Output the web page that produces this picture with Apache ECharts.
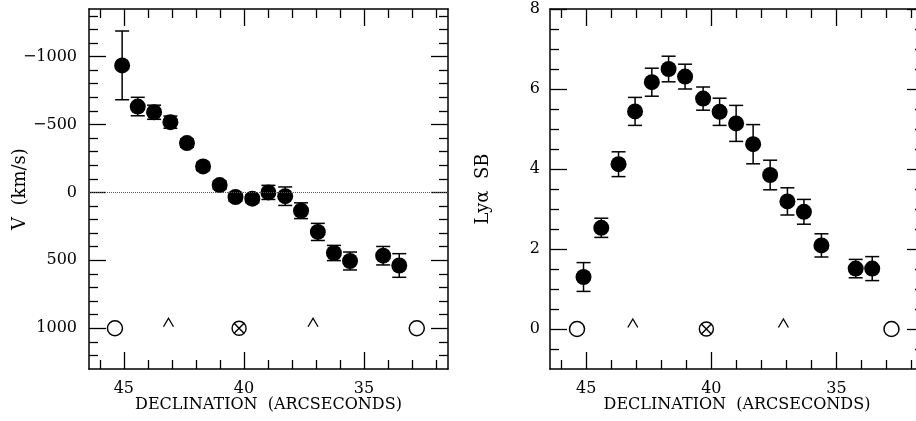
<!DOCTYPE html>
<html>
<head>
<meta charset="utf-8">
<script src="https://cdn.jsdelivr.net/npm/echarts@6/dist/echarts.min.js"></script>
<style>
html,body{margin:0;padding:0;background:#fff;}
#chart{width:916px;height:421px;}
</style>
</head>
<body>
<div id="chart"></div>
<script>
// ---------- data ----------
const declMin = 31.5;
const declMax = 46.45;
const declMajor = [45, 40, 35];
const declMinor = [32, 33, 34, 36, 37, 38, 39, 41, 42, 43, 44, 46];

const vMin = -1350;
const vMax = 1300;
const vMajor = [-1000, -500, 0, 500, 1000];
const vMinor = [-1300, -1200, -1100, -900, -800, -700, -600, -400, -300, -200, -100,
                100, 200, 300, 400, 600, 700, 800, 900, 1100, 1200];

const sbMin = -1;
const sbMax = 8;
const sbMajor = [0, 2, 4, 6, 8];
const sbMinor = [-0.5, 0.5, 1, 1.5, 2.5, 3, 3.5, 4.5, 5, 5.5, 6.5, 7, 7.5];

const velDecl  = [45.07, 44.42, 43.74, 43.06, 42.37, 41.70, 41.01, 40.35, 39.65, 38.98, 38.28, 37.62, 36.92, 36.25, 35.58, 34.20, 33.53];
const velValue = [-935, -632, -590, -517, -363, -191, -54, 34, 46, 0, 28, 135, 291, 446, 505, 466, 538];
const velErr   = [253, 68, 52, 45, 30, 30, 30, 30, 30, 52, 68, 58, 63, 56, 66, 68, 87];

const sbDecl  = [45.11, 44.40, 43.71, 43.05, 42.38, 41.71, 41.05, 40.33, 39.67, 39.01, 38.33, 37.65, 36.96, 36.30, 35.60, 34.23, 33.57];
const sbValue = [1.30, 2.53, 4.12, 5.44, 6.17, 6.50, 6.31, 5.76, 5.43, 5.14, 4.62, 3.85, 3.19, 2.93, 2.09, 1.51, 1.51];
const sbErr   = [0.36, 0.24, 0.31, 0.35, 0.35, 0.32, 0.31, 0.29, 0.34, 0.45, 0.49, 0.37, 0.34, 0.31, 0.29, 0.23, 0.30];

const openCircleDecl = [45.37, 32.80];
const caretDecl = [43.14, 37.12];
const nucleusDecl = [40.2];
const markerLevelV = 1000;
const markerLevelSB = 0;

const xName = 'DECLINATION  (ARCSECONDS)';
const vName = 'V  (km/s)';
const sbName = 'Ly\u03b1  SB';

// ---------- styling helpers ----------
const FONT = 'DejaVu Serif';
const BLACK = '#000';
const MAJOR_LEN = 17;
const MINOR_LEN = 9;

function axisSet(dim, gridIndex, opts) {
  // returns [majorMain, minorMain, majorOpp, minorOpp]
  const mainPos = dim === 'x' ? 'bottom' : 'left';
  const oppPos = dim === 'x' ? 'top' : 'right';
  const base = {
    gridIndex: gridIndex, type: 'value', min: opts.min, max: opts.max,
    inverse: !!opts.inverse, splitLine: {show: false}, scale: true
  };
  const mk = (pos, values, len, withLabel, withLine) => Object.assign({}, base, {
    position: pos,
    axisLine: {show: withLine, onZero: false, lineStyle: {color: BLACK, width: 1.5}},
    axisTick: {show: true, inside: true, length: len, customValues: values,
               lineStyle: {color: BLACK, width: 1.3}},
    axisLabel: withLabel ? {
      show: true, customValues: opts.major, margin: opts.labelMargin,
      fontFamily: FONT, fontSize: 16, color: BLACK,
      formatter: v => String(v).replace('-', '\u2212')
    } : {show: false},
    name: withLabel ? opts.name : '',
    nameLocation: 'middle',
    nameGap: opts.nameGap,
    nameMoveOverlap: false,
    nameTextStyle: {fontFamily: FONT, fontSize: opts.nameSize, color: BLACK}
  });
  return [
    mk(mainPos, opts.major, MAJOR_LEN, true, true),
    mk(mainPos, opts.minor, MINOR_LEN, false, false),
    mk(oppPos, opts.major, MAJOR_LEN, false, true),
    mk(oppPos, opts.minor, MINOR_LEN, false, false)
  ];
}

const xAxes = [].concat(
  axisSet('x', 0, {min: declMin, max: declMax, inverse: true, major: declMajor, minor: declMinor,
                   labelMargin: 12, name: xName, nameGap: 28, nameSize: 16}),
  axisSet('x', 1, {min: declMin, max: declMax, inverse: true, major: declMajor, minor: declMinor,
                   labelMargin: 12, name: xName, nameGap: 28, nameSize: 16})
);
const yAxes = [].concat(
  axisSet('y', 0, {min: vMin, max: vMax, inverse: true, major: vMajor, minor: vMinor,
                   labelMargin: 12, name: vName, nameGap: 60, nameSize: 18}),
  axisSet('y', 1, {min: sbMin, max: sbMax, inverse: false, major: sbMajor, minor: sbMinor,
                   labelMargin: 10, name: sbName, nameGap: 58, nameSize: 18})
);

function errorBarSeries(xi, yi, decl, val, err) {
  return {
    type: 'custom', xAxisIndex: xi, yAxisIndex: yi, z: 2, silent: true,
    data: decl.map((d, i) => [d, val[i], err[i]]),
    renderItem: function (params, api) {
      const x = api.value(0), y = api.value(1), e = api.value(2);
      const p1 = api.coord([x, y - e]);
      const p2 = api.coord([x, y + e]);
      const hw = 7;
      const st = {stroke: BLACK, lineWidth: 1.5};
      return {type: 'group', children: [
        {type: 'line', shape: {x1: p1[0], y1: p1[1], x2: p2[0], y2: p2[1]}, style: st},
        {type: 'line', shape: {x1: p1[0] - hw, y1: p1[1], x2: p1[0] + hw, y2: p1[1]}, style: st},
        {type: 'line', shape: {x1: p2[0] - hw, y1: p2[1], x2: p2[0] + hw, y2: p2[1]}, style: st}
      ]};
    }
  };
}

function pointSeries(xi, yi, decl, val) {
  return {
    type: 'scatter', xAxisIndex: xi, yAxisIndex: yi, z: 3, silent: true,
    symbol: 'circle', symbolSize: 16,
    itemStyle: {color: BLACK, opacity: 1},
    data: decl.map((d, i) => [d, val[i]])
  };
}

function openCircleSeries(xi, yi, level) {
  return {
    type: 'scatter', xAxisIndex: xi, yAxisIndex: yi, z: 3, silent: true,
    symbol: 'circle', symbolSize: 15,
    itemStyle: {color: '#fff', borderColor: BLACK, borderWidth: 1.5, opacity: 1},
    data: openCircleDecl.map(d => [d, level])
  };
}

function caretSeries(xi, yi, level) {
  return {
    type: 'custom', xAxisIndex: xi, yAxisIndex: yi, z: 3, silent: true,
    data: caretDecl.map(d => [d, level]),
    renderItem: function (params, api) {
      const p = api.coord([api.value(0), api.value(1)]);
      return {type: 'polyline', shape: {points: [[p[0] - 5, p[1] - 1.5], [p[0], p[1] - 10], [p[0] + 5, p[1] - 1.5]]},
              style: {stroke: BLACK, lineWidth: 1.3, fill: null}};
    }
  };
}

function nucleusSeries(xi, yi, level) {
  return {
    type: 'custom', xAxisIndex: xi, yAxisIndex: yi, z: 3, silent: true,
    data: nucleusDecl.map(d => [d, level]),
    renderItem: function (params, api) {
      const p = api.coord([api.value(0), api.value(1)]);
      const r = 7, k = r * 0.7071;
      const st = {stroke: BLACK, lineWidth: 1.4, fill: null};
      return {type: 'group', children: [
        {type: 'circle', shape: {cx: p[0], cy: p[1], r: r}, style: {stroke: BLACK, lineWidth: 1.4, fill: '#fff'}},
        {type: 'line', shape: {x1: p[0] - k, y1: p[1] - k, x2: p[0] + k, y2: p[1] + k}, style: st},
        {type: 'line', shape: {x1: p[0] - k, y1: p[1] + k, x2: p[0] + k, y2: p[1] - k}, style: st}
      ]};
    }
  };
}

const zeroLine = {
  type: 'line', xAxisIndex: 0, yAxisIndex: 0, z: 1, silent: true,
  data: [], symbol: 'none',
  markLine: {
    silent: true, symbol: ['none', 'none'], label: {show: false},
    lineStyle: {color: '#555', type: 'dotted', width: 1},
    data: [{yAxis: 0}]
  }
};

const option = {
  animation: false,
  backgroundColor: '#fff',
  grid: [
    {left: 89, top: 9, width: 359, height: 360, outerBoundsMode: 'none', containLabel: false},
    {left: 550, top: 9, width: 374, height: 360, outerBoundsMode: 'none', containLabel: false}
  ],
  xAxis: xAxes,
  yAxis: yAxes,
  series: [
    zeroLine,
    errorBarSeries(0, 0, velDecl, velValue, velErr),
    pointSeries(0, 0, velDecl, velValue),
    openCircleSeries(0, 0, markerLevelV),
    caretSeries(0, 0, markerLevelV),
    nucleusSeries(0, 0, markerLevelV),
    errorBarSeries(4, 4, sbDecl, sbValue, sbErr),
    pointSeries(4, 4, sbDecl, sbValue),
    openCircleSeries(4, 4, markerLevelSB),
    caretSeries(4, 4, markerLevelSB),
    nucleusSeries(4, 4, markerLevelSB)
  ]
};

const chart = echarts.init(document.getElementById('chart'), null, {renderer: 'canvas'});
chart.setOption(option);
</script>
</body>
</html>
